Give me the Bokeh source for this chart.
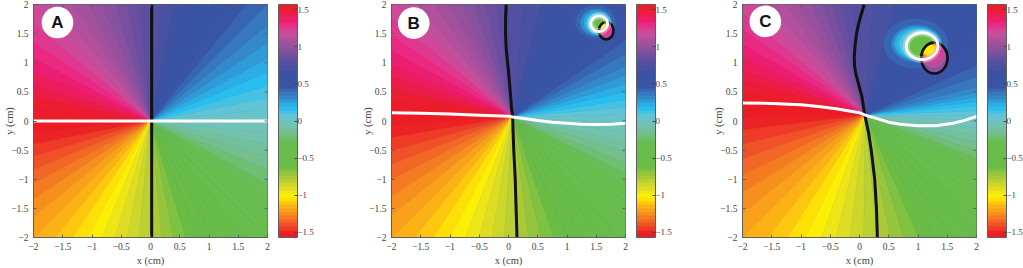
import numpy as np
from bokeh.embed import file_html
from bokeh.resources import INLINE
from bokeh.plotting import figure
from bokeh.layouts import row
from bokeh.models import (ColumnDataSource, LinearColorMapper, ColorBar, FixedTicker, Range1d)
from bokeh.core.properties import value
from bokeh.transform import transform

# colour scale
cmap_values = [-1.5708, -1.51, -1.38, -1.24, -1.13, -1.02, -0.93, -0.75, -0.61, -0.28, -0.17, -0.03, 0.08, 0.17, 0.33, 0.46, 0.64, 0.82, 1.0, 1.18, 1.29, 1.36, 1.5, 1.5708]
cmap_colors = ["#ed1c24", "#ed1c24", "#f05a28", "#f7941d", "#fdb913", "#fff200", "#e6e020", "#a5c83a", "#68bc45", "#69bd50", "#74bf8e", "#72c3b8", "#5fc4d8", "#28c0f0", "#3585c6", "#3a55a6", "#3a53a4", "#5c4fa0", "#93519e", "#c9509c", "#ec2b86", "#ed1c6f", "#ed1c30", "#ed1c24"]
n_levels = 64
tick_vals = [-2, -1.5, -1, -0.5, 0, 0.5, 1, 1.5, 2]
bar_ticks = [-1.5, -1, -0.5, 0, 0.5, 1, 1.5]

panels = ["A", "B", "C"]

# fan: singularity position, and the direction (deg) reached by phase values
fan_x = {"A": 0.0, "B": 0.07, "C": 0.10}
fan_y = {"A": 0.0, "B": 0.07, "C": 0.10}
fan_v = {"A": [-1.5708, -0.7854, 0.0, 0.7854, 1.5708],
         "B": [-1.5708, -0.7854, -0.3, 0.0, 0.15, 0.33, 0.46, 0.7854, 1.5708],
         "C": [-1.5708, -0.7854, -0.3, 0.0, 0.15, 0.33, 0.46, 0.7854, 1.5708]}
fan_deg = {"A": [-180, -90, 0, 90, 180],
           "B": [-182, -88, -32, -3, 9, 23, 36, 93, 178],
           "C": [-185.7, -84.4, -25, -3, 5, 13, 26, 97, 174.3]}

# contour lines (phase 0 in white, phase pi/4 in black)
white_x = {"A": [-2, 2],
           "B": [-2, -1.5, -1, -0.5, 0, 0.07, 0.3, 0.5, 0.75, 1, 1.25, 1.5, 1.75, 2],
           "C": [-2, -1.5, -1, -0.7, -0.4, -0.2, 0, 0.1, 0.3, 0.5, 0.7, 1, 1.3, 1.6, 1.8, 2]}
white_y = {"A": [0, 0],
           "B": [0.14, 0.135, 0.12, 0.10, 0.08, 0.07, 0.04, 0.01, -0.02, -0.04, -0.055, -0.06, -0.055, -0.04],
           "C": [0.31, 0.30, 0.28, 0.25, 0.21, 0.175, 0.14, 0.10, 0.04, -0.02, -0.055, -0.08, -0.08, -0.04, 0.01, 0.08]}
black_x = {"A": [0.02, 0.02],
           "B": [-0.04, -0.05, -0.05, -0.04, -0.02, 0.0, 0.03, 0.05, 0.07, 0.09, 0.115, 0.13, 0.145],
           "C": [0.08, 0.05, 0.02, -0.02, -0.05, -0.075, -0.09, -0.085, -0.06, -0.02, 0.045, 0.09, 0.155, 0.2, 0.26, 0.29, 0.305]}
black_y = {"A": [2, -2],
           "B": [2, 1.75, 1.5, 1.25, 1.05, 0.85, 0.5, 0.25, 0.07, -0.5, -1, -1.5, -2],
           "C": [2, 1.9, 1.8, 1.65, 1.5, 1.3, 1.1, 0.95, 0.8, 0.65, 0.4, 0.1, -0.2, -0.5, -1, -1.5, -2]}

# closed contours round the small lobes: x, y, width, height
white_ring = {"B": [1.55, 1.67, 0.29, 0.27], "C": [1.07, 1.285, 0.54, 0.46]}
black_ring = {"B": [1.67, 1.55, 0.25, 0.30], "C": [1.28, 1.08, 0.45, 0.53]}

# halo layers around the lobes, painted in order: x, y, width, height, tilt, phase
lobes_x = {"B": [1.48, 1.49, 1.50, 1.51, 1.52, 1.53, 1.67, 1.66, 1.65, 1.55, 1.61, 1.615],
           "C": [0.96, 0.97, 0.98, 0.99, 1.00, 1.01, 1.28, 1.27, 1.26, 1.25, 1.07, 1.205, 1.195, 1.19]}
lobes_y = {"B": [1.70, 1.70, 1.69, 1.69, 1.68, 1.68, 1.55, 1.57, 1.59, 1.67, 1.62, 1.625],
           "C": [1.33, 1.33, 1.33, 1.33, 1.32, 1.32, 1.08, 1.12, 1.16, 1.20, 1.285, 1.21, 1.22, 1.225]}
lobes_w = {"B": [0.85, 0.68, 0.54, 0.44, 0.37, 0.33, 0.25, 0.22, 0.19, 0.27, 0.16, 0.10],
           "C": [1.10, 0.95, 0.86, 0.78, 0.70, 0.64, 0.45, 0.40, 0.34, 0.30, 0.54, 0.34, 0.27, 0.20]}
lobes_h = {"B": [0.70, 0.56, 0.46, 0.40, 0.34, 0.31, 0.30, 0.25, 0.20, 0.25, 0.07, 0.05],
           "C": [0.85, 0.72, 0.62, 0.55, 0.52, 0.49, 0.53, 0.42, 0.32, 0.24, 0.46, 0.24, 0.19, 0.14]}
lobes_tilt = {"B": [0, 0, 0, 0, 0, 0, 0, 0, 0, 0, 0.8, 0.8],
              "C": [0, 0, 0, 0, 0, 0, 0, 0, 0, 0, 0, 0.75, 0.75, 0.75]}
lobes_v = {"B": [0.45, 0.40, 0.30, 0.20, 0.12, 0.05, 1.0, 1.15, 1.28, -0.5, -1.3, -1.0],
           "C": [0.44, 0.40, 0.33, 0.24, 0.15, 0.08, 0.95, 1.08, 1.2, 1.3, -0.5, -1.5, -1.2, -1.0]}

# panel letters: x, y
badge_x = {"A": -1.59, "B": -1.62, "C": -1.61}
badge_y = {"A": 1.69, "B": 1.68, "C": 1.71}

frame_left = {"A": 33, "B": 51, "C": 59}
frame_right = {"A": 73, "B": 58, "C": 47}

# palette built from the colour scale
edges = np.linspace(-1.5708, 1.5708, n_levels + 1)
mids = (edges[:-1] + edges[1:]) / 2
rgb = np.array([[int(c[i:i + 2], 16) for i in (1, 3, 5)] for c in cmap_colors], float)
palette = ["#%02x%02x%02x" % tuple(int(round(np.interp(m, cmap_values, rgb[:, k]))) for k in range(3)) for m in mids]
mapper = LinearColorMapper(palette=palette, low=-1.5708, high=1.5708)

GREY = "#5f5f5f"
TXT = "#444444"
SERIF = "Liberation Serif"


def make_panel(name):
    p = figure(width=frame_left[name] + 234 + frame_right[name], height=268, frame_width=234, frame_height=233,
               x_range=Range1d(-2, 2), y_range=Range1d(-2, 2),
               output_backend="svg", toolbar_location=None,
               min_border_left=frame_left[name], min_border_top=4, min_border_bottom=31,
               min_border_right=frame_right[name], x_axis_label="x (cm)", y_axis_label="y (cm)")
    p.grid.visible = False
    p.background_fill_color = "#3a53a4"
    p.outline_line_color = GREY

    angles = np.radians(np.interp(edges, fan_v[name], fan_deg[name]))
    fan = ColumnDataSource(dict(x=[fan_x[name]] * n_levels, y=[fan_y[name]] * n_levels,
                                a0=angles[:-1], a1=angles[1:], v=mids))
    p.wedge("x", "y", radius=7, start_angle="a0", end_angle="a1", source=fan,
            fill_color=transform("v", mapper), line_color=transform("v", mapper), line_width=0.6)

    if name in lobes_v:
        src = ColumnDataSource(dict(x=lobes_x[name], y=lobes_y[name], w=lobes_w[name], h=lobes_h[name],
                                    t=lobes_tilt[name], v=lobes_v[name]))
        p.ellipse("x", "y", width="w", height="h", angle="t", source=src,
                  fill_color=transform("v", mapper), line_color=transform("v", mapper), line_width=0.5)

    p.line(black_x[name], black_y[name], line_color="#111111", line_width=3, line_join="round")
    p.line(white_x[name], white_y[name], line_color="white", line_width=3, line_join="round")
    if name in white_ring:
        bx, by, bw, bh = black_ring[name]
        p.ellipse([bx], [by], width=[bw], height=[bh], fill_color=None, line_color="#111111", line_width=2.6)
        wx, wy, ww, wh = white_ring[name]
        p.ellipse([wx], [wy], width=[ww], height=[wh], fill_color=None, line_color="white", line_width=7, line_alpha=0.3)
        p.ellipse([wx], [wy], width=[ww], height=[wh], fill_color=None, line_color="white", line_width=2.8)

    # inward ticks along the top and right of the box
    p.segment(x0=tick_vals, y0=[2] * 9, x1=tick_vals, y1=[1.95] * 9, line_color=GREY, line_width=1)
    p.segment(x0=[2] * 9, y0=tick_vals, x1=[1.95] * 9, y1=tick_vals, line_color=GREY, line_width=1)

    p.circle([badge_x[name]], [badge_y[name]], radius=0.27, fill_color="white", line_color=None)
    p.text([badge_x[name]], [badge_y[name]], text=[name], text_align="center", text_baseline="middle",
           text_font=value("Liberation Sans"), text_font_style="bold", text_font_size="17px", text_color="#111111")

    for ax in (p.xaxis[0], p.yaxis[0]):
        ax.ticker = FixedTicker(ticks=tick_vals)
        ax.major_tick_in = 3
        ax.major_tick_out = 0
        ax.minor_tick_line_color = None
        ax.axis_line_color = GREY
        ax.major_tick_line_color = GREY
        ax.major_label_text_font = SERIF
        ax.major_label_text_font_size = "9.5px"
        ax.major_label_text_color = TXT
        ax.axis_label_text_font = SERIF
        ax.axis_label_text_font_size = "10.5px"
        ax.axis_label_text_font_style = "normal"
        ax.axis_label_text_color = TXT
        ax.major_label_standoff = 5
    p.xaxis[0].axis_label_standoff = 2
    p.yaxis[0].axis_label_standoff = -7
    p.yaxis[0].major_label_orientation = "horizontal"

    cb = ColorBar(color_mapper=mapper, ticker=FixedTicker(ticks=bar_ticks), width=19, height=233,
                  padding=0, margin=0, location=(11, 0),
                  major_tick_in=3, major_tick_out=0, major_tick_line_color=TXT, minor_tick_line_color=None,
                  bar_line_color=GREY, major_label_text_font=SERIF, major_label_text_font_size="9px",
                  major_label_text_color=TXT, label_standoff=0)
    p.add_layout(cb, "right")
    return p


page = row(*[make_panel(n) for n in panels], spacing=0, margin=(0, 0, 0, 0))
open("out.html", "w").write(file_html(page, INLINE))
